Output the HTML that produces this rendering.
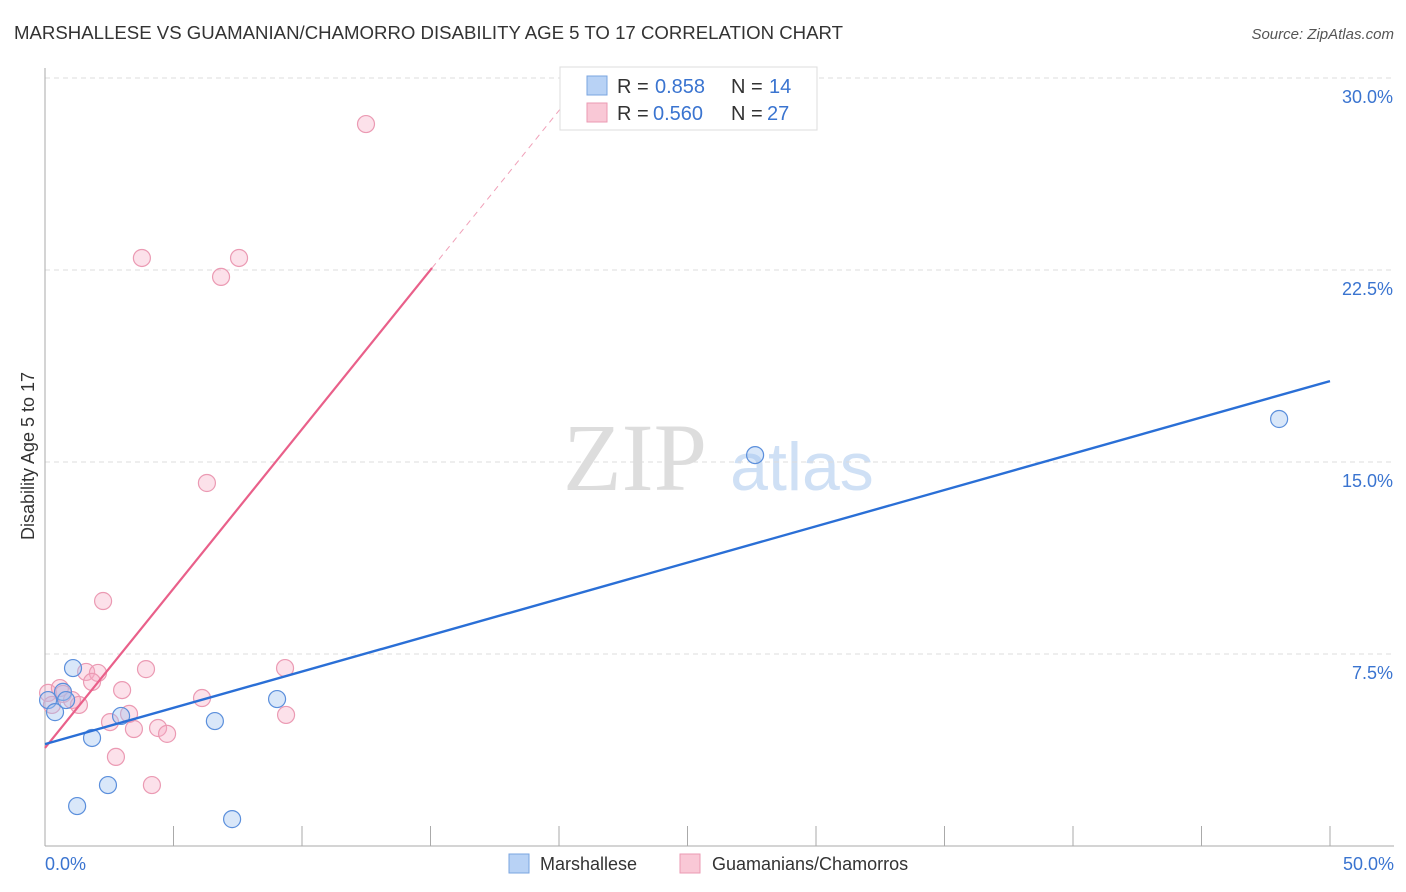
<!DOCTYPE html>
<html><head><meta charset="utf-8"><style>
body{margin:0;background:#fff;font-family:"Liberation Sans",sans-serif}
svg{display:block}
</style></head><body>
<svg width="1406" height="892" xmlns="http://www.w3.org/2000/svg">
<text x="14" y="39" font-size="18" fill="#333" textLength="829" lengthAdjust="spacingAndGlyphs">MARSHALLESE VS GUAMANIAN/CHAMORRO DISABILITY AGE 5 TO 17 CORRELATION CHART</text>
<text x="1394" y="39" font-size="15" fill="#555" font-style="italic" text-anchor="end">Source: ZipAtlas.com</text>
<g>
<text x="635" y="490" font-size="96" fill="#ddd" font-family="Liberation Serif,serif" text-anchor="middle">ZIP</text>
<text x="802" y="490" font-size="68" fill="#cfe0f5" text-anchor="middle">atlas</text>
</g>
<g id="grid"></g>
<g id="axes"></g>
<g id="marks"></g>
<text transform="translate(34,456) rotate(-90)" font-size="18" fill="#333" text-anchor="middle">Disability Age 5 to 17</text>
<text x="45" y="870" font-size="18" fill="#3a74d0">0.0%</text>
<text x="1394" y="870" font-size="18" fill="#3a74d0" text-anchor="end">50.0%</text>
<g>
<rect x="560" y="67" width="257" height="63" fill="#fff" stroke="#ddd"/>
<rect x="587" y="76" width="20" height="19" fill="#b8d2f5" stroke="#7aa5e0"/>
<rect x="587" y="103" width="20" height="19" fill="#f9c8d6" stroke="#eb9ab3"/>
<text x="617" y="93" font-size="20" fill="#333">R = <tspan x="655" fill="#3a74d0">0.858</tspan><tspan x="731">N = </tspan><tspan x="769" fill="#3a74d0">14</tspan></text>
<text x="617" y="120" font-size="20" fill="#333">R = <tspan x="653" fill="#3a74d0">0.560</tspan><tspan x="731">N = </tspan><tspan x="767" fill="#3a74d0">27</tspan></text>
</g>
<g>
<rect x="509" y="854" width="20" height="19" fill="#b8d2f5" stroke="#7aa5e0"/>
<text x="540" y="870" font-size="18" fill="#333">Marshallese</text>
<rect x="680" y="854" width="20" height="19" fill="#f9c8d6" stroke="#eb9ab3"/>
<text x="712" y="870" font-size="18" fill="#333">Guamanians/Chamorros</text>
</g>
<script>
const yTicks=[7.5,15,22.5,30];
const yTickLabels=["7.5%","15.0%","22.5%","30.0%"];
const xTicks=[0,5,10,15,20,25,30,35,40,45,50];
const blueX=[1.09,0.12,0.39,0.70,0.82,1.83,2.96,1.25,2.45,6.61,7.28,9.03,27.63,48.02];
const blueY=[6.95,5.70,5.23,6.02,5.70,4.22,5.08,1.56,2.38,4.88,1.05,5.74,15.27,16.68];
const pinkX=[0.12,0.27,0.58,0.70,1.05,1.32,1.60,2.06,1.83,2.26,2.53,3.00,2.76,3.27,3.46,3.77,3.93,4.16,4.40,4.75,6.11,6.30,6.85,7.55,9.34,9.38,12.49];
const pinkY=[5.98,5.51,6.17,5.94,5.70,5.51,6.80,6.76,6.41,9.57,4.84,6.09,3.48,5.16,4.57,22.97,6.91,2.38,4.61,4.38,5.78,14.18,22.23,22.97,6.95,5.12,28.20];
const blueLine=[3.98,18.16];
const pinkLine=[3.83,22.58,15.06];
const NS="http://www.w3.org/2000/svg";
const sx=v=>45+v*25.7, sy=v=>846-v*25.6;
function mk(t,a,p){const e=document.createElementNS(NS,t);for(const k in a)e.setAttribute(k,a[k]);document.getElementById(p).appendChild(e);return e;}
yTicks.forEach((t,i)=>{
 const g=mk('line',{x1:45,x2:1394,y1:sy(t),y2:sy(t),stroke:'#ddd','stroke-dasharray':'5,4'},'grid');
 
 
 const l=mk('text',{x:1393,y:sy(t)+25,'font-size':18,fill:'#3a74d0','text-anchor':'end'},'grid');
 l.textContent=yTickLabels[i];
 
 
});
const ax=mk('line',{x1:45,x2:1394,y1:846,y2:846,stroke:'#aaa'},'axes');


const ay=mk('line',{x1:45,x2:45,y1:68,y2:846,stroke:'#aaa'},'axes');


xTicks.forEach(t=>{
 const e=mk('line',{x1:sx(t),x2:sx(t),y1:826,y2:846,stroke:'#aaa'},'axes');
 
 
});
pinkX.forEach((x,i)=>{
 const c=mk('circle',{cx:sx(x),cy:sy(pinkY[i]),r:8.5,fill:'rgba(246,168,194,0.35)',stroke:'#eb9ab3','stroke-width':1.2},'marks');
 
 
});
blueX.forEach((x,i)=>{
 const c=mk('circle',{cx:sx(x),cy:sy(blueY[i]),r:8.5,fill:'rgba(160,195,240,0.4)',stroke:'#5b8fdc','stroke-width':1.2},'marks');
 
 
});
const slope=(pinkLine[1]-pinkLine[0])/pinkLine[2];
const xEnd=(30-pinkLine[0])/slope;
const pd=mk('line',{x1:sx(pinkLine[2]),y1:sy(pinkLine[1]),x2:sx(xEnd),y2:sy(30),stroke:'#f0a0b8','stroke-width':1,'stroke-dasharray':'6,5'},'marks');


const pl=mk('line',{x1:sx(0),y1:sy(pinkLine[0]),x2:sx(pinkLine[2]),y2:sy(pinkLine[1]),stroke:'#e9608a','stroke-width':2.2},'marks');


const bl=mk('line',{x1:sx(0),y1:sy(blueLine[0]),x2:sx(50),y2:sy(blueLine[1]),stroke:'#2a6fd6','stroke-width':2.4},'marks');


</script>
</svg>
</body></html>
